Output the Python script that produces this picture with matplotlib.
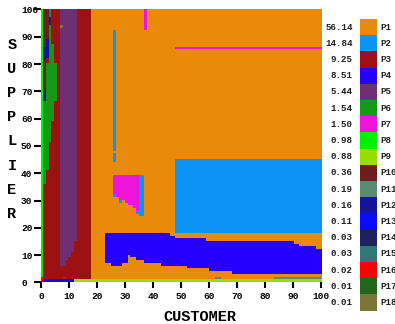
import numpy as np
import matplotlib
matplotlib.use('Agg')
import matplotlib.pyplot as plt
from matplotlib.colors import ListedColormap

# plans, their share of the space (%) and colours
plans = ['P%d' % i for i in range(1, 19)]
shares = [56.14, 14.84, 9.25, 8.51, 5.44, 1.54, 1.50, 0.98, 0.88,
          0.36, 0.19, 0.16, 0.11, 0.03, 0.03, 0.02, 0.01, 0.01]
colors = ['#EA8A0A', '#0B93F5', '#9C1212', '#2500FF', '#6E3072', '#139913',
          '#EE14DC', '#00F000', '#98DC00', '#6B1F1F', '#5A8A74', '#15159A',
          '#0A0AFF', '#20205F', '#2E7878', '#FF0000', '#22661F', '#7A7438']

# plan regions on the 100 x 100 selectivity grid: (col0, col1, row0, row1)
p3_blocks = [(1, 18, 1, 100)]
p5_edges = [7, 8, 9, 10, 11, 12, 13]
p5_lo = [6, 6, 8, 9, 11, 15]
p5_blocks = [(8, 9, 1, 2)]
p18_blocks = [(7, 8, 93, 94)]
p6_blocks = [(3, 4, 87, 94), (3, 5, 80, 87), (2, 6, 66, 80), (1, 5, 59, 66),
             (1, 4, 51, 59), (1, 3, 41, 51), (1, 2, 36, 41)]
p10_blocks = [(1, 3, 89, 100), (1, 2, 86, 89), (1, 2, 70, 81)]
p12_blocks = [(1, 3, 82, 86), (2, 3, 86, 89), (1, 2, 66, 70), (1, 2, 81, 82)]
p14_blocks = [(3, 4, 94, 97)]
p15_blocks = [(3, 4, 97, 100)]
p8_blocks = [(0, 1, 2, 100)]
p16_blocks = [(0, 1, 0, 2)]
p13_blocks = [(1, 12, 0, 1)]
p9_blocks = [(12, 100, 0, 1)]
p11_blocks = [(62, 64, 1, 2), (83, 100, 1, 2)]
p4_edges = [23, 25, 29, 31, 32, 34, 37, 43, 46, 48, 52, 59, 60, 68, 90, 92, 98, 100]
p4_lo = [7, 6, 7, 10, 9, 8, 7, 6, 6, 6, 5, 5, 4, 3, 3, 3, 3]
p4_hi = [18, 18, 18, 18, 18, 18, 18, 18, 17, 16, 16, 15, 15, 15, 14, 13, 12]
p2_blocks = [(48, 100, 18, 45), (26, 27, 44, 47), (26, 27, 48, 92),
             (35, 37, 24, 39), (26, 27, 31, 32), (28, 29, 29, 30), (34, 35, 25, 26)]
p7_edges = [26, 27, 28, 29, 30, 31, 32, 33, 34, 35]
p7_lo = [32, 31, 30, 30, 29, 28, 28, 27, 26]
p7_blocks = [(48, 100, 85, 86), (37, 38, 92, 100)]

grid = np.zeros((100, 100), dtype=int)  # P1 everywhere to start


def paint(plan, blocks):
    for c0, c1, r0, r1 in blocks:
        grid[r0:r1, c0:c1] = plan


def paint_steps(plan, edges, lo, hi):
    for c0, c1, r0, r1 in zip(edges[:-1], edges[1:], lo, hi):
        grid[r0:r1, c0:c1] = plan


paint(2, p3_blocks)
paint_steps(4, p5_edges, p5_lo, [100] * len(p5_lo))
paint(4, p5_blocks)
paint(17, p18_blocks)
paint(5, p6_blocks)
paint(9, p10_blocks)
paint(11, p12_blocks)
paint(13, p14_blocks)
paint(14, p15_blocks)
paint(7, p8_blocks)
paint(15, p16_blocks)
paint(12, p13_blocks)
paint(8, p9_blocks)
paint(10, p11_blocks)
paint_steps(3, p4_edges, p4_lo, p4_hi)
paint(1, p2_blocks)
paint_steps(6, p7_edges, p7_lo, [39] * len(p7_lo))
paint(6, p7_blocks)

font = 'Liberation Mono'

fig = plt.figure(figsize=(3.95, 3.24), dpi=100)
ax = fig.add_axes([0.1038, 0.1281, 0.7089, 0.8426])
ax.imshow(grid, cmap=ListedColormap(colors), vmin=-0.5, vmax=17.5,
          origin='lower', interpolation='nearest', aspect='auto',
          extent=(-0.3, 100.0, 0.2, 100.2))
ax.set_xlim(0, 100)
ax.set_ylim(0, 100)
for s in ax.spines.values():
    s.set_visible(False)

ticks = list(range(0, 101, 10))
ax.set_xticks(ticks)
ax.set_yticks(ticks)
ax.set_xticklabels([str(t) for t in ticks], fontfamily=font, fontweight='bold', fontsize=6.8)
ax.set_yticklabels([str(t) for t in ticks], fontfamily=font, fontweight='bold', fontsize=6.8)
ax.tick_params(axis='x', length=4.5, width=1.5, pad=2)
ax.tick_params(axis='y', length=5, width=1.5, pad=9.4)
for lbl in ax.get_yticklabels():
    lbl.set_horizontalalignment('left')

fig.text(200 / 395, 1 - 317 / 324, 'CUSTOMER', ha='center', va='center',
         fontsize=11, fontweight='bold', fontfamily=font)
for i, ch in enumerate('SUPPLIER'):
    fig.text(12 / 395, 1 - (45 + i * 24.1) / 324, ch, ha='center', va='center',
             fontsize=11, fontweight='bold', fontfamily=font)

# legend column
lax = fig.add_axes([360 / 395, 1 - 310.7 / 324, 17 / 395, 291.7 / 324])
lax.barh(range(len(plans)), [1] * len(plans), height=1.0, color=colors)
lax.set_xlim(0, 1)
lax.set_ylim(len(plans) - 0.5, -0.5)
lax.axis('off')
for i, (p, v) in enumerate(zip(plans, shares)):
    lax.text(-0.42, i, '%.2f' % v, ha='right', va='center', fontsize=6.6,
             fontweight='bold', fontfamily=font, color='#222222', clip_on=False)
    lax.text(1.18, i, p, ha='left', va='center', fontsize=6.6,
             fontweight='bold', fontfamily=font, color='#222222', clip_on=False)

fig.savefig('out.png', dpi=100)
